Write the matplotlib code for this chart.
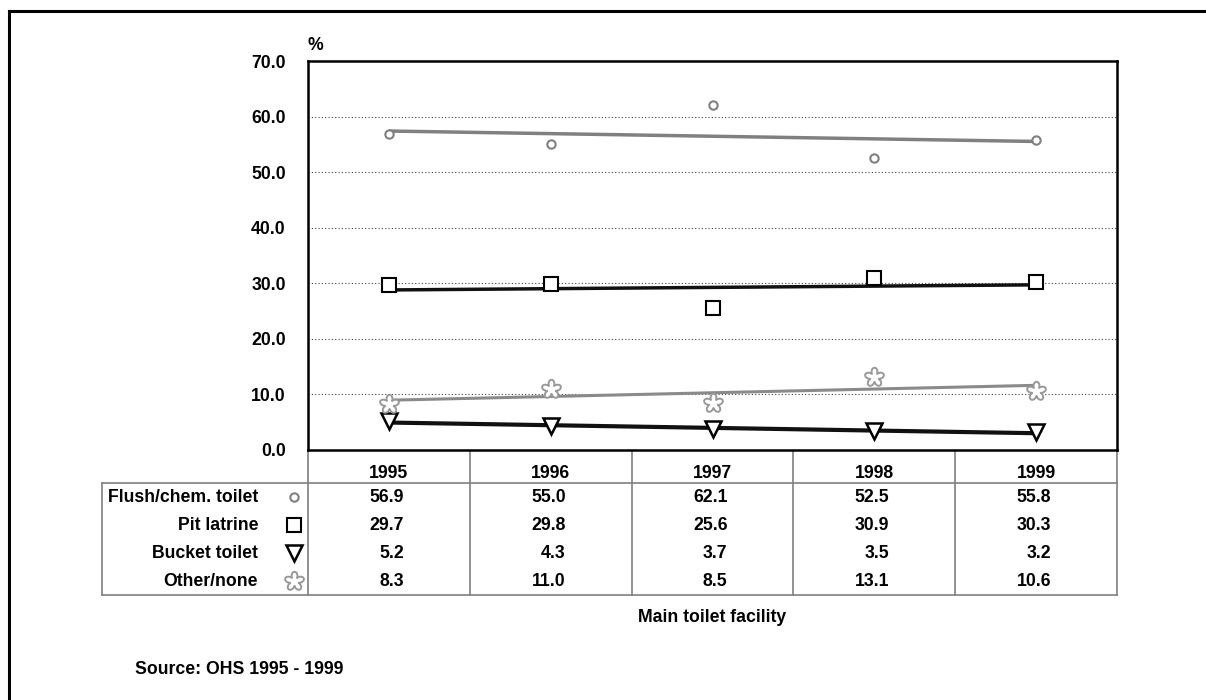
import numpy as np
import matplotlib
matplotlib.use("Agg")
import matplotlib.pyplot as plt
from matplotlib.path import Path

plt.rcParams['font.family'] = ['Liberation Sans', 'DejaVu Sans']
plt.rcParams['font.weight'] = 'bold'

"""Data"""
years = ["1995", "1996", "1997", "1998", "1999"]
flush = [56.9, 55.0, 62.1, 52.5, 55.8]
pit = [29.7, 29.8, 25.6, 30.9, 30.3]
bucket = [5.2, 4.3, 3.7, 3.5, 3.2]
other = [8.3, 11.0, 8.5, 13.1, 10.6]
row_names = ["Flush/chem. toilet", "Pit latrine", "Bucket toilet", "Other/none"]
yticks = [0, 10, 20, 30, 40, 50, 60, 70]

# flower shaped marker for "Other/none"
th = np.linspace(0, 2*np.pi, 400)
r = 0.45 + 0.55*np.abs(np.cos(2.5*(th - np.pi/2)))
flower = Path(np.column_stack([r*np.cos(th), r*np.sin(th)]), closed=True)

series = [
    (flush, dict(marker='o', ms=6, mec='#808080', mew=1.5), '#808080', 2.5),
    (pit, dict(marker='s', ms=10, mec='black', mew=1.5), '#111111', 2.5),
    (bucket, dict(marker='v', ms=11, mec='black', mew=1.8), '#111111', 3.0),
    (other, dict(marker=flower, ms=14, mec='#999999', mew=1.4), '#8a8a8a', 2.2),
]

W, H = 1206, 700
fig = plt.figure(figsize=(W/100, H/100), dpi=100)

# plot area in pixels
L, R, T, B = 308, 1117, 61, 450
ax = fig.add_axes([L/W, 1 - B/H, (R-L)/W, (B-T)/H])
x = np.arange(len(years))
for vals, mk, lc, lw in series:
    k, b = np.polyfit(x, vals, 1)
    ax.plot(x, k*x + b, color=lc, lw=lw, solid_capstyle='butt', zorder=2)
    ax.plot(x, vals, ls='none', mfc='white', zorder=3, **mk)
ax.set_xlim(-0.5, 4.5)
ax.set_ylim(0, 70)
ax.set_yticks(yticks)
ax.set_yticklabels(["%.1f" % v for v in yticks], fontsize=12.7, fontweight='bold')
ax.set_xticks([])
ax.tick_params(axis='y', length=0, pad=16)
for v in yticks[1:-1]:
    ax.axhline(v, color='#444444', lw=0.8, ls=(0, (1, 2)), zorder=1)
for s in ax.spines.values():
    s.set_linewidth(1.8)
    s.set_color('black')

# overlay in pixel coordinates for table, border and notes
ov = fig.add_axes([0, 0, 1, 1], zorder=-1)
ov.set_xlim(0, W)
ov.set_ylim(H, 0)
ov.axis('off')

# outer frame (only top and left visible)
ov.plot([9, W], [11, 11], color='black', lw=2.2)
ov.plot([9, 9], [11, H], color='black', lw=2.2)

ov.text(L, 46, "%", fontsize=12.7, fontweight='bold', ha='left', va='center')

# data table
tl, hb, tb = 102, 483, 595
col_w = (R - L) / len(years)
gc = '#7f7f7f'
for i in range(len(years) + 1):
    ov.plot([L + i*col_w]*2, [B, tb], color=gc, lw=1.2)
ov.plot([tl, R], [hb, hb], color=gc, lw=1.2)
ov.plot([tl, R], [tb, tb], color=gc, lw=1.2)
ov.plot([tl, tl], [hb, tb], color=gc, lw=1.2)

row_h = (tb - hb) / len(row_names)
for i, yr in enumerate(years):
    ov.text(L + (i + 0.5)*col_w, 473, yr, fontsize=12.7, ha='center', va='center')
for j, (name, (vals, mk, lc, lw)) in enumerate(zip(row_names, series)):
    yc = hb + (j + 0.5)*row_h
    ov.text(258, yc, name, fontsize=12.7, ha='right', va='center')
    ov.plot([294], [yc], ls='none', mfc='white', **mk)
    for i, v in enumerate(vals):
        ov.text(L + (i + 0.5)*col_w + 15, yc, "%.1f" % v, fontsize=12.7,
                ha='right', va='center')

ov.text(712, 618, "Main toilet facility", fontsize=12.7, ha='center', va='center')
ov.text(135, 670, "Source: OHS 1995 - 1999", fontsize=12.7, ha='left', va='center')

fig.savefig("out.png", dpi=100)
